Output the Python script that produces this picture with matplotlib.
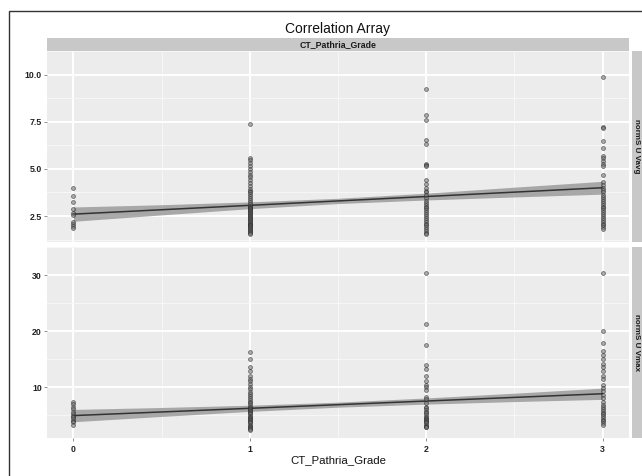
import numpy as np
import matplotlib
matplotlib.use("Agg")
import matplotlib.pyplot as plt
from matplotlib.patches import Rectangle

plt.rcParams['font.family'] = ['Liberation Sans', 'DejaVu Sans']

# --- data ---
grades = [0, 1, 2, 3]

suvavg_g0 = [3.96, 3.57, 3.24, 2.85, 2.64, 2.55, 2.16, 2.08, 1.97, 1.84]
suvavg_g1 = [7.4, 5.6, 5.45, 5.3, 5.15, 5.0, 4.85, 4.7, 4.55, 4.4, 4.25, 4.1, 3.95,
             3.85, 3.75, 3.65, 3.55, 3.45, 3.35, 3.25, 3.15, 3.05, 3.0, 2.95, 2.9,
             2.85, 2.8, 2.75, 2.7, 2.65, 2.6, 2.55, 2.5, 2.45, 2.4, 2.35, 2.3, 2.25,
             2.2, 2.15, 2.1, 2.05, 2.0, 1.95, 1.9, 1.85, 1.8, 1.75, 1.7, 1.65, 1.6, 1.55]
suvavg_g2 = [9.25, 7.85, 7.58, 6.55, 6.3, 5.24, 5.2, 5.15, 4.42, 4.2, 4.0, 3.85, 3.75,
             3.6, 3.45, 3.3, 3.2, 3.1, 3.0, 2.9, 2.8, 2.7, 2.6, 2.5, 2.4, 2.3, 2.2,
             2.1, 2.0, 1.9, 1.8, 1.7, 1.6, 1.54]
suvavg_g3 = [9.89, 7.2, 7.15, 6.5, 6.1, 5.67, 5.55, 5.4, 5.25, 5.14, 4.7, 4.3, 4.15,
             4.0, 3.9, 3.75, 3.6, 3.5, 3.4, 3.3, 3.2, 3.1, 3.0, 2.9, 2.8, 2.7, 2.6,
             2.5, 2.4, 2.3, 2.2, 2.1, 2.0, 1.9, 1.83]

suvmax_g0 = [7.3, 6.9, 6.5, 6.1, 5.6, 5.2, 4.9, 4.6, 4.3, 4.0, 3.7, 3.3]
suvmax_g1 = [16.2, 15.0, 13.5, 12.8, 12.0, 11.5, 11.0, 10.5, 10.0, 9.6, 9.2, 8.8,
             8.4, 8.0, 7.7, 7.4, 7.1, 6.8, 6.5, 6.3, 6.1, 5.9, 5.7, 5.5, 5.3, 5.1,
             4.9, 4.7, 4.5, 4.3, 4.1, 3.9, 3.7, 3.5, 3.3, 3.1, 2.9, 2.7, 2.5, 2.3]
suvmax_g2 = [30.3, 21.2, 17.5, 14.0, 13.2, 12.0, 11.0, 10.4, 10.0, 9.5, 8.3, 7.8,
             7.2, 6.5, 6.2, 5.9, 5.6, 5.3, 5.0, 4.7, 4.5, 4.3, 4.1, 3.9, 3.7, 3.5,
             3.3, 3.1, 2.9, 2.8]
suvmax_g3 = [30.3, 20.0, 17.8, 16.5, 15.8, 15.0, 14.2, 13.5, 12.8, 12.0, 11.5, 10.4,
             9.8, 9.3, 8.6, 8.0, 7.4, 6.8, 6.4, 6.0, 5.7, 5.4, 5.1, 4.8, 4.5, 4.2,
             3.9, 3.6, 3.3]

# fitted line and confidence band, read at these x positions
fit_x = [0, 0.5, 1, 1.5, 2, 2.5, 3]
avg_fit = [2.6, 2.83, 3.07, 3.3, 3.53, 3.77, 4.0]
avg_lo = [2.22, 2.56, 2.89, 3.16, 3.35, 3.51, 3.66]
avg_hi = [2.98, 3.10, 3.25, 3.44, 3.71, 4.03, 4.34]
max_fit = [4.9, 5.55, 6.2, 6.85, 7.5, 8.15, 8.8]
max_lo = [3.8, 4.75, 5.65, 6.4, 6.95, 7.4, 7.8]
max_hi = [6.0, 6.35, 6.75, 7.3, 8.05, 8.9, 9.8]

avg_ticks = [2.5, 5.0, 7.5, 10.0]
avg_labels = ['2.5', '5.0', '7.5', '10.0']
max_ticks = [10, 20, 30]
max_labels = ['10', '20', '30']

panels = [
    ('normS U Vavg', [suvavg_g0, suvavg_g1, suvavg_g2, suvavg_g3],
     avg_fit, avg_lo, avg_hi, avg_ticks, avg_labels),
    ('normS U Vmax', [suvmax_g0, suvmax_g1, suvmax_g2, suvmax_g3],
     max_fit, max_lo, max_hi, max_ticks, max_labels),
]

W, H = 642, 476
fig = plt.figure(figsize=(W / 100, H / 100), dpi=100)

px_left, px_right = 47, 629
panel_tops = [51, 247]
panel_h = 191

for (name, groups, fit, lo, hi, ticks, labels), top in zip(panels, panel_tops):
    ax = fig.add_axes([px_left / W, 1 - (top + panel_h) / H,
                       (px_right - px_left) / W, panel_h / H])
    ax.set_facecolor('#ECECEC')
    for s in ax.spines.values():
        s.set_visible(False)

    ax.fill_between(fit_x, lo, hi, color='#969696', alpha=0.8, lw=0, zorder=2)
    ax.plot([fit_x[0], fit_x[-1]], [fit[0], fit[-1]], color='#333333', lw=1.1, zorder=3)

    for g, vals in zip(grades, groups):
        ax.plot([g] * len(vals), vals, 'o', ms=2.8, mfc='#777777', mec='#1E1E1E',
                mew=0.55, alpha=0.6, zorder=4)

    allv = np.concatenate([np.array(v) for v in groups])
    vmin, vmax = allv.min(), allv.max()
    pad = 0.05 * (vmax - vmin)
    ax.set_ylim(vmin - pad, vmax + pad)
    ax.set_xlim(-0.15, 3.15)

    ax.set_yticks(ticks)
    ax.set_yticklabels(labels)
    step = ticks[1] - ticks[0]
    ax.set_yticks([t - step / 2 for t in ticks] + [ticks[-1] + step / 2], minor=True)
    ax.set_xticks(grades)
    ax.set_xticks([0.5, 1.5, 2.5], minor=True)

    ax.grid(which='major', color='white', lw=1.4, zorder=0)
    ax.grid(which='minor', color='#F8F8F8', lw=0.6, zorder=0)
    ax.set_axisbelow(True)

    ax.tick_params(which='major', length=2.2, width=0.6, color='#7F7F7F', pad=1.5,
                   labelsize=6.3, labelcolor='#222222')
    ax.tick_params(which='minor', length=0)
    for t in ax.get_yticklabels():
        t.set_fontweight('bold')

    if top == panel_tops[0]:
        ax.tick_params(axis='x', which='major', labelbottom=False, length=0)
    else:
        for t in ax.get_xticklabels():
            t.set_fontweight('bold')
        ax.tick_params(axis='x', pad=3)
        ax.set_xlabel('CT_Pathria_Grade', fontsize=8.2, color='#111111', labelpad=1)

    # right facet strip
    fig.add_artist(Rectangle((632 / W, 1 - (top + panel_h) / H), 14 / W, panel_h / H,
                             transform=fig.transFigure, facecolor='#C8C8C8',
                             edgecolor='none'))
    fig.text(636.5 / W, 1 - (top + panel_h / 2) / H, name, rotation=270,
             ha='center', va='center', fontsize=5.8, fontweight='bold', color='#1A1A1A')

# top facet strip
fig.add_artist(Rectangle((px_left / W, 1 - 51 / H), (px_right - px_left) / W, 13 / H,
                         transform=fig.transFigure, facecolor='#C8C8C8', edgecolor='none'))
fig.text((px_left + px_right) / 2 / W, 1 - 44.5 / H, 'CT_Pathria_Grade',
         ha='center', va='center', fontsize=6.3, fontweight='bold', color='#1A1A1A')

fig.text((px_left + px_right) / 2 / W, 1 - 29 / H, 'Correlation Array',
         ha='center', va='center', fontsize=10, color='#111111')

# outer frame of the figure
fig.add_artist(Rectangle((9 / W, -0.2), 1.2, 1.2 - 11 / H, transform=fig.transFigure,
                         fill=False, edgecolor='#333333', lw=1.0))

fig.savefig('out.png', dpi=100)
